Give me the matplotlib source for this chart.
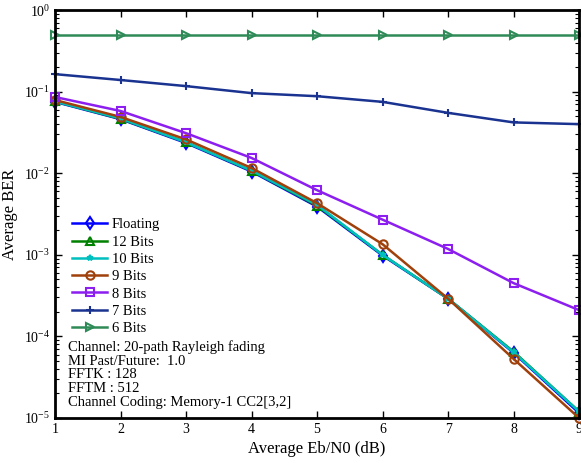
import matplotlib
matplotlib.use("Agg")
import matplotlib.pyplot as plt
from matplotlib.ticker import LogLocator, NullFormatter

plt.rcParams['font.family'] = ['Liberation Serif', 'DejaVu Serif']
plt.rcParams['mathtext.fontset'] = 'stix'

# Datos
ebn0 = [1, 2, 3, 4, 5, 6, 7, 8, 9]
floating = [0.075, 0.046, 0.0235, 0.0105, 0.0039, 0.00098, 0.00029, 6.3e-5, 1.15e-5]
bits12 = [0.076, 0.0465, 0.024, 0.0107, 0.004, 0.001, 0.00029, 6.5e-5, 1.2e-5]
bits10 = [0.076, 0.047, 0.024, 0.0108, 0.0041, 0.001, 0.00029, 6.4e-5, 1.2e-5]
bits9 = [0.079, 0.049, 0.026, 0.0116, 0.0043, 0.00135, 0.00029, 5.3e-5, 1.0e-5]
bits8 = [0.086, 0.058, 0.031, 0.0154, 0.0062, 0.0027, 0.00118, 0.00045, 0.00021]
bits7 = [0.164, 0.139, 0.117, 0.096, 0.088, 0.075, 0.055, 0.042, 0.040]
bits6 = [0.5, 0.5, 0.5, 0.5, 0.5, 0.5, 0.5, 0.5, 0.5]

labels = ['Floating', '12 Bits', '10 Bits', '9 Bits', '8 Bits', '7 Bits', '6 Bits']
colors = ['#0000ff', '#008000', '#00bfbf', '#a0400a', '#8c1ef0', '#1a3390', '#2e8b57']
markers = ['d', '^', '*', 'o', 's', '+', '>']

fig = plt.figure(figsize=(5.81, 4.63), dpi=100)
ax = fig.add_axes([0.0947, 0.0972, 0.902, 0.881])

series = [floating, bits12, bits10, bits9, bits8, bits7, bits6]
for ys, lab, c, m in zip(series, labels, colors, markers):
    ms = 4 if m == '*' else 6
    ax.semilogy(ebn0, ys, color=c, marker=m, markersize=ms, markerfacecolor='none',
                markeredgewidth=1.5, linewidth=1.8, label=lab, clip_on=False)

ax.set_xlim(1, 9)
ax.set_ylim(1e-5, 1)
ax.set_xticks(ebn0)
ax.yaxis.set_major_locator(LogLocator(base=10, numticks=10))
ax.yaxis.set_minor_locator(LogLocator(base=10, subs=range(2, 10), numticks=20))
ax.yaxis.set_minor_formatter(NullFormatter())
ax.tick_params(which='both', direction='in', top=True, right=True, labelsize=10)
ax.tick_params(which='major', length=5, width=1)
ax.tick_params(which='minor', length=3, width=0.8)
for s in ax.spines.values():
    s.set_linewidth(2)

ax.set_xlabel('Average Eb/N0 (dB)', fontsize=12, labelpad=4)
ax.set_ylabel('Average BER', fontsize=12, labelpad=4)

ax.legend(loc='upper left', bbox_to_anchor=(0.008, 0.522), frameon=False, fontsize=10.5,
          handlelength=2.4, handletextpad=0.3, labelspacing=0.28, borderaxespad=0.5)

info = ('Channel: 20-path Rayleigh fading\nMI Past/Future:  1.0\nFFTK : 128\n'
        'FFTM : 512\nChannel Coding: Memory-1 CC2[3,2]')
ax.text(0.025, 0.022, info, transform=ax.transAxes, fontsize=10.5, va='bottom', ha='left',
        linespacing=1.08)

fig.savefig('out.png', dpi=100)
